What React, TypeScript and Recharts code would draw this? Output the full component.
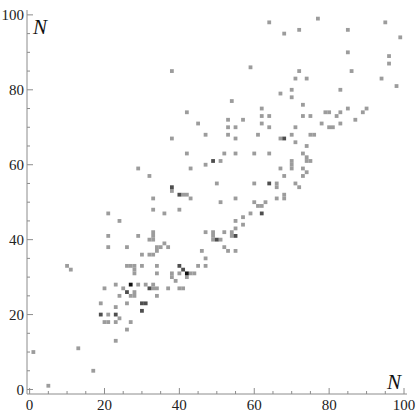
import { ScatterChart, Scatter, XAxis, YAxis } from "recharts";

// cell counts: one hit, two hits, three hits
const light: [number, number][] = [
  [64, 98], [38, 85], [59, 86], [54, 77], [67, 79], [77, 99], [95, 98], [72, 96], [68, 95], [85, 96],
  [99, 94], [85, 90], [96, 89], [96, 87], [72, 85], [86, 85], [71, 83], [74, 83], [94, 83], [98, 81],
  [70, 80], [83, 80], [70, 78], [29, 59], [32, 57],
  [42, 74], [62, 75], [62, 73], [64, 73], [45, 71], [53, 72], [57, 72], [62, 71], [64, 70], [53, 70],
  [55, 70], [47, 68], [53, 68], [61, 68], [38, 67], [55, 67], [67, 67], [42, 63], [52, 63], [55, 63],
  [60, 63], [64, 63], [51, 61], [47, 60], [43, 59], [67, 59], [38, 53], [50, 55], [60, 55], [66, 55],
  [41, 52], [42, 52], [43, 51], [55, 51], [66, 51],
  [73, 76], [73, 73], [75, 73], [79, 74], [80, 74], [82, 73], [83, 74], [85, 75], [87, 72], [89, 74],
  [90, 75], [78, 71], [80, 70], [81, 70], [83, 71], [71, 70], [70, 68], [75, 68], [76, 68], [71, 66],
  [74, 65], [73, 63], [74, 62], [74, 61], [75, 61], [70, 61], [70, 60], [70, 59], [73, 59], [74, 58],
  [68, 57], [73, 57], [66, 54], [71, 55], [72, 54], [68, 52], [68, 51],
  [21, 47], [24, 45], [21, 41], [29, 41], [33, 42], [33, 41], [21, 38], [26, 38], [10, 33], [11, 32],
  [33, 51], [33, 48], [40, 48], [51, 50], [60, 50], [61, 49], [62, 49], [63, 50], [59, 47], [36, 47],
  [57, 46], [55, 45], [57, 44], [55, 43], [47, 42], [52, 42], [49, 42], [49, 41], [49, 40], [51, 40],
  [52, 38], [54, 42], [54, 41], [55, 37], [53, 37], [46, 37],
  [32, 40], [33, 40], [30, 36], [32, 36], [33, 36], [26, 33], [27, 33], [28, 33], [30, 33], [28, 32],
  [28, 31], [25, 27], [23, 28], [20, 27], [29, 28], [31, 28], [28, 26], [27, 25], [28, 25], [26, 23],
  [24, 25], [19, 23], [23, 22], [21, 20], [24, 19], [20, 18], [21, 18], [23, 18], [27, 18], [26, 16],
  [23, 13], [1, 10], [13, 11], [17, 5], [5, 1], [36, 39], [34, 38], [35, 38], [34, 37], [37, 38],
  [34, 33], [34, 31], [38, 31], [38, 30], [43, 31], [44, 31], [40, 31], [42, 30], [45, 33], [47, 35],
  [47, 33], [39, 29], [40, 27], [41, 27], [37, 27], [33, 28], [34, 27], [33, 27], [34, 25],
];

const medium: [number, number][] = [
  [49, 61], [38, 54], [64, 55], [40, 52], [68, 67], [62, 47], [50, 40], [55, 41], [32, 27], [26, 26],
  [30, 23], [31, 23], [30, 21], [19, 20], [23, 20], [40, 33], [41, 32],
];

const dark: [number, number][] = [
  [27, 28], [42, 31],
];

const frameTicks = [0, 5, 10, 15, 20, 25, 30, 35, 40, 45, 50, 55, 60, 65, 70, 75, 80, 85, 90, 95, 100];

const toRows = (pts: [number, number][]) => pts.map(([x, y]) => ({ x, y }));

const FRAME = "#8c8c8c";
const CELL = 3.8;

const cellShape = (color: string) => (p: any) =>
  <rect x={p.cx - CELL / 2} y={p.cy - CELL / 2} width={CELL} height={CELL} fill={color} />;

const labelStyle = { fontFamily: "'Liberation Serif', 'Times New Roman', serif", fontSize: 15 };

const FrameTick = ({ x, y, payload, side }: any) => {
  const v = payload.value;
  const major = v % 20 === 0;
  const len = major ? 6 : 3;
  if (side === "bottom") {
    return (
      <g>
        <line x1={x} x2={x} y1={y} y2={y - len} stroke={FRAME} />
        {major && <text x={x} y={y + 16} textAnchor="middle" fill="#222" style={labelStyle}>{v}</text>}
      </g>
    );
  }
  if (side === "left") {
    return (
      <g>
        <line x1={x} x2={x + len} y1={y} y2={y} stroke={FRAME} />
        {major && <text x={x - 3} y={y + 5} textAnchor="end" fill="#222" style={labelStyle}>{v}</text>}
      </g>
    );
  }
  if (side === "top") {
    return <line x1={x} x2={x} y1={y} y2={y + len} stroke={FRAME} />;
  }
  return <line x1={x} x2={x - len} y1={y} y2={y} stroke={FRAME} />;
};

const nStyle: React.CSSProperties = {
  position: "absolute",
  fontFamily: "'Liberation Serif', 'Times New Roman', serif",
  fontStyle: "italic",
  fontSize: 21,
  lineHeight: 1,
  color: "#111",
};

export default function App() {
  return (
    <div style={{ position: "absolute", left: 0, top: 0, width: 419, height: 419, background: "#fff" }}>
      <ScatterChart width={419} height={419} margin={{ top: 10, right: 12, bottom: 0, left: 0 }}>
        <XAxis
          xAxisId="b"
          dataKey="x"
          type="number"
          domain={[-0.7, 100.8]}
          ticks={frameTicks}
          interval={0}
          height={25}
          tickSize={0}
          tickMargin={0}
          axisLine={{ stroke: FRAME }}
          tick={(p: any) => <FrameTick {...p} side="bottom" />}
        />
        <XAxis
          xAxisId="t"
          orientation="top"
          dataKey="x"
          type="number"
          domain={[-0.7, 100.8]}
          ticks={frameTicks}
          interval={0}
          height={0}
          tickSize={0}
          tickMargin={0}
          axisLine={{ stroke: FRAME }}
          tick={(p: any) => <FrameTick {...p} side="top" />}
        />
        <YAxis
          yAxisId="l"
          dataKey="y"
          type="number"
          domain={[-1.2, 101.3]}
          ticks={frameTicks}
          interval={0}
          width={27}
          tickSize={0}
          tickMargin={0}
          axisLine={{ stroke: FRAME }}
          tick={(p: any) => <FrameTick {...p} side="left" />}
        />
        <YAxis
          yAxisId="r"
          orientation="right"
          dataKey="y"
          type="number"
          domain={[-1.2, 101.3]}
          ticks={frameTicks}
          interval={0}
          width={0}
          tickSize={0}
          tickMargin={0}
          axisLine={{ stroke: FRAME }}
          tick={(p: any) => <FrameTick {...p} side="right" />}
        />
        <Scatter xAxisId="b" yAxisId="l" data={toRows(light)} shape={cellShape("#9c9c9c")} isAnimationActive={false} />
        <Scatter xAxisId="b" yAxisId="l" data={toRows(medium)} shape={cellShape("#4e4e4e")} isAnimationActive={false} />
        <Scatter xAxisId="b" yAxisId="l" data={toRows(dark)} shape={cellShape("#111")} isAnimationActive={false} />
      </ScatterChart>
      <div style={{ ...nStyle, left: 33, top: 17 }}>N</div>
      <div style={{ ...nStyle, left: 387, top: 372 }}>N</div>
    </div>
  );
}
